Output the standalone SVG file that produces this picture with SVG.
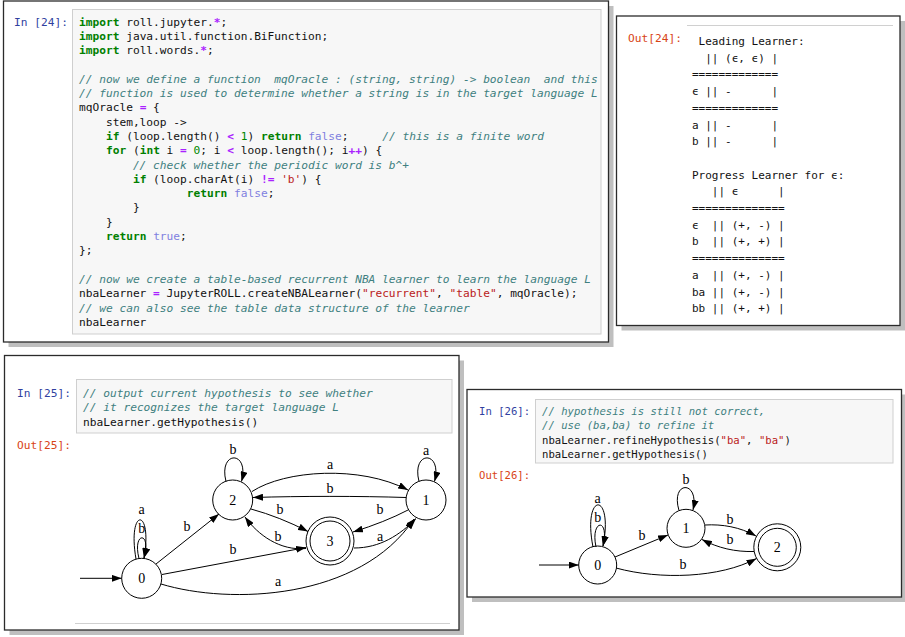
<svg xmlns="http://www.w3.org/2000/svg" width="905" height="637" viewBox="0 0 905 637" xml:space="preserve">
<style>
text{white-space:pre}
.panel{fill:#fff;stroke:#2b2b2b;stroke-width:1.3}
.shadow{fill:#bfbfbf}
.cell{fill:#f7f7f7;stroke:#cfcfcf;stroke-width:1}
.sep{stroke:#d0d0d0;stroke-width:1}
.code{font-family:"DejaVu Sans Mono","Liberation Mono",monospace;font-size:11.2px;fill:#111}
.small{font-size:10.6px}
.tbl{font-family:"DejaVu Sans Mono","Liberation Mono",monospace;font-size:11px;fill:#111}
.k{fill:#008000;font-weight:bold}
.o{fill:#AA22FF;font-weight:bold}
.c{fill:#408080;font-style:italic}
.s{fill:#BA2121}
.n{fill:#008800}
.a{fill:#8080e0}
.pin{fill:#303F9F}
.pout{fill:#D84315}
.lbl{font-family:"Liberation Serif","Times New Roman",serif;font-size:14px;text-anchor:middle;fill:#000}
.edge{fill:none;stroke:#000;stroke-width:1;marker-end:url(#ah)}
.st{fill:none;stroke:#000;stroke-width:1}
</style>
<defs>
<marker id="ah" markerUnits="userSpaceOnUse" markerWidth="10" markerHeight="7" refX="10" refY="3.5" orient="auto"><path d="M0,0 L10,3.5 L0,7 z" fill="#000"/></marker>
</defs>
<rect width="905" height="637" fill="#fff"/>
<g id="panel-in24">
<rect class="shadow" x="8.5" y="6" width="605" height="341"/>
<rect class="panel" x="3.5" y="1" width="605" height="341"/>
<rect class="cell" x="72.5" y="9.5" width="528.5" height="324.5"/>
<text class="code pin" x="14" y="25.5">In [24]:</text>
<text class="code" x="79" y="25.5"><tspan class="k">import</tspan> roll.jupyter.<tspan class="o">*</tspan>;</text>
<text class="code" x="79" y="39.8"><tspan class="k">import</tspan> java.util.function.BiFunction;</text>
<text class="code" x="79" y="54.1"><tspan class="k">import</tspan> roll.words.<tspan class="o">*</tspan>;</text>
<text class="code c" x="79" y="82.7">// now we define a function  mqOracle : (string, string) -&gt; boolean  and this</text>
<text class="code c" x="79" y="97">// function is used to determine whether a string is in the target language L</text>
<text class="code" x="79" y="111.3">mqOracle <tspan class="o">=</tspan> {</text>
<text class="code" x="79" y="125.6">    stem,loop -&gt;</text>
<text class="code" x="79" y="139.9">    <tspan class="k">if</tspan> (loop.length() <tspan class="o">&lt;</tspan> <tspan class="n">1</tspan>) <tspan class="k">return</tspan> <tspan class="a">false</tspan>;     <tspan class="c">// this is a finite word</tspan></text>
<text class="code" x="79" y="154.2">    <tspan class="k">for</tspan> (<tspan class="k">int</tspan> i <tspan class="o">=</tspan> <tspan class="n">0</tspan>; i <tspan class="o">&lt;</tspan> loop.length(); i<tspan class="o">++</tspan>) {</text>
<text class="code c" x="79" y="168.5">        // check whether the periodic word is b^+</text>
<text class="code" x="79" y="182.8">        <tspan class="k">if</tspan> (loop.charAt(i) <tspan class="o">!=</tspan> <tspan class="s">'b'</tspan>) {</text>
<text class="code" x="79" y="197.1">                <tspan class="k">return</tspan> <tspan class="a">false</tspan>;</text>
<text class="code" x="79" y="211.4">        }</text>
<text class="code" x="79" y="225.7">    }</text>
<text class="code" x="79" y="240">    <tspan class="k">return</tspan> <tspan class="a">true</tspan>;</text>
<text class="code" x="79" y="254.3">};</text>
<text class="code c" x="79" y="282.9">// now we create a table-based recurrent NBA learner to learn the language L</text>
<text class="code" x="79" y="297.2">nbaLearner <tspan class="o">=</tspan> JupyterROLL.createNBALearner(<tspan class="s">"recurrent"</tspan>, <tspan class="s">"table"</tspan>, mqOracle);</text>
<text class="code c" x="79" y="311.5">// we can also see the table data structure of the learner</text>
<text class="code" x="79" y="325.8">nbaLearner</text>
</g>
<g id="panel-out24">
<rect class="shadow" x="621.5" y="21" width="283.5" height="309.5"/>
<rect class="panel" x="616.5" y="16" width="283.5" height="309.5"/>
<line class="sep" x1="687" y1="25.5" x2="893" y2="25.5"/>
<text class="code pout" x="628" y="42.3">Out[24]:</text>
<text class="tbl" x="692" y="45"> Leading Learner:</text>
<text class="tbl" x="692" y="61.7">  || (ϵ, ϵ) |</text>
<text class="tbl" x="692" y="78.4">=============</text>
<text class="tbl" x="692" y="95.1">ϵ || -      |</text>
<text class="tbl" x="692" y="111.8">=============</text>
<text class="tbl" x="692" y="128.5">a || -      |</text>
<text class="tbl" x="692" y="145.2">b || -      |</text>
<text class="tbl" x="692" y="178.6">Progress Learner for ϵ:</text>
<text class="tbl" x="692" y="195.3">   || ϵ      |</text>
<text class="tbl" x="692" y="212">==============</text>
<text class="tbl" x="692" y="228.7">ϵ  || (+, -) |</text>
<text class="tbl" x="692" y="245.4">b  || (+, +) |</text>
<text class="tbl" x="692" y="262.1">==============</text>
<text class="tbl" x="692" y="278.8">a  || (+, -) |</text>
<text class="tbl" x="692" y="295.5">ba || (+, -) |</text>
<text class="tbl" x="692" y="312.2">bb || (+, +) |</text>
</g>
<g id="panel-25">
<rect class="shadow" x="9.5" y="360.5" width="454.5" height="274.5"/>
<rect class="panel" x="4.5" y="355.5" width="454.5" height="274.5"/>
<rect class="cell" x="76.5" y="379.5" width="375.5" height="53.5"/>
<text class="code pin" x="17" y="397">In [25]:</text>
<text class="code c" x="83" y="397">// output current hypothesis to see whether</text>
<text class="code c" x="83" y="411.3">// it recognizes the target language L</text>
<text class="code" x="83" y="425.6">nbaLearner.getHypothesis()</text>
<text class="code pout" x="17" y="449">Out[25]:</text>
<line class="sep" x1="75" y1="623.5" x2="450" y2="623.5"/>
</g>
<g id="g1-edges">
<path class="edge" d="M80,578.3 L121.7,578.3"/>
<path class="edge" d="M136,559 C127,507 153,507 144,558"/>
<path class="edge" d="M139,558.5 C132,531 152,531 144,558"/>
<path class="edge" d="M226,481.5 C218,450 250,450 241.5,481.5"/>
<path class="edge" d="M419,481.5 C411,450 443,450 434.5,481.5"/>
<path class="edge" d="M252,491.5 C285,470 360,465 408,490"/>
<path class="edge" d="M406,497.5 C360,496 300,496 253,497.5"/>
<path class="edge" d="M251,509 Q280,517 308,531.5"/>
<path class="edge" d="M306,548.5 C280,551 258,535 245,517"/>
<path class="edge" d="M408,510 Q385,522 353,532"/>
<path class="edge" d="M354,548 C380,548 400,535 416,518.5"/>
<path class="edge" d="M156,564 L219,514"/>
<path class="edge" d="M162,574.5 L306,547.5"/>
<path class="edge" d="M161,584 C230,605 360,600 414,519"/>
<text class="lbl" x="141.7" y="514">a</text>
<text class="lbl" x="141.7" y="533">b</text>
<text class="lbl" x="233" y="454">b</text>
<text class="lbl" x="426" y="455">a</text>
<text class="lbl" x="330" y="469">a</text>
<text class="lbl" x="330" y="493">b</text>
<text class="lbl" x="280" y="514">b</text>
<text class="lbl" x="278" y="541">b</text>
<text class="lbl" x="380" y="514">b</text>
<text class="lbl" x="380" y="541">a</text>
<text class="lbl" x="187" y="531">b</text>
<text class="lbl" x="233" y="554">b</text>
<text class="lbl" x="278" y="586">a</text>
</g>
<g id="g1-n0"><circle class="st" cx="141.7" cy="578.3" r="20"/><text class="lbl" x="141.7" y="583.3">0</text></g>
<g id="g1-n2"><circle class="st" cx="232.7" cy="500" r="20"/><text class="lbl" x="232.7" y="505">2</text></g>
<g id="g1-n3"><circle class="st" cx="330" cy="541" r="20"/><circle class="st" cx="330" cy="541" r="24"/><text class="lbl" x="330" y="546">3</text></g>
<g id="g1-n1"><circle class="st" cx="426" cy="500" r="20"/><text class="lbl" x="426" y="505">1</text></g>
<g id="panel-26">
<rect class="shadow" x="472" y="394.5" width="433" height="207.5"/>
<rect class="panel" x="467" y="389.5" width="434.5" height="207.5"/>
<rect class="cell" x="535.5" y="399.5" width="357.5" height="63.5"/>
<text class="code small pin" x="479" y="415">In [26]:</text>
<text class="code small c" x="542" y="415">// hypothesis is still not correct,</text>
<text class="code small c" x="542" y="429.3">// use (ba,ba) to refine it</text>
<text class="code small" x="542" y="443.6">nbaLearner.refineHypothesis(<tspan class="s">"ba"</tspan>, <tspan class="s">"ba"</tspan>)</text>
<text class="code small" x="542" y="457.9">nbaLearner.getHypothesis()</text>
<text class="code small pout" x="479" y="479">Out[26]:</text>
</g>
<g id="g2-edges">
<path class="edge" d="M539,565 L578.7,565"/>
<path class="edge" d="M593,547 C582,491 614,491 603,546"/>
<path class="edge" d="M596,547 C590,519 610,517 603,546"/>
<path class="edge" d="M679,510.5 C670,480 700,480 693,510"/>
<path class="edge" d="M615,557 L668,535"/>
<path class="edge" d="M705,525 C722,524 740,527 756,536"/>
<path class="edge" d="M754,551.5 C735,552 718,548 702,539.5"/>
<path class="edge" d="M616,568 C660,580 720,578 756.5,558.5"/>
<text class="lbl" x="597.7" y="503">a</text>
<text class="lbl" x="597.7" y="522">b</text>
<text class="lbl" x="686" y="484">b</text>
<text class="lbl" x="642" y="540">b</text>
<text class="lbl" x="730" y="524">b</text>
<text class="lbl" x="730" y="544">b</text>
<text class="lbl" x="683" y="569">b</text>
</g>
<g id="g2-n0"><circle class="st" cx="597.7" cy="565" r="19"/><text class="lbl" x="597.7" y="570">0</text></g>
<g id="g2-n1"><circle class="st" cx="686" cy="528.3" r="19"/><text class="lbl" x="686" y="533.3">1</text></g>
<g id="g2-n2"><circle class="st" cx="777.3" cy="547.3" r="19"/><circle class="st" cx="777.3" cy="547.3" r="23.5"/><text class="lbl" x="777.3" y="552.3">2</text></g>
</svg>
